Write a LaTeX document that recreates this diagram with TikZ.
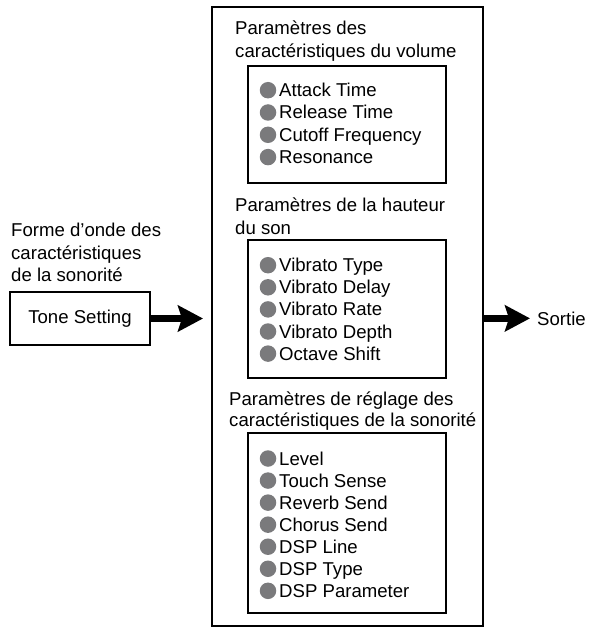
\documentclass[tikz,border=0pt]{standalone}
\usepackage{fontspec}
\setmainfont{Liberation Sans}
\usetikzlibrary{arrows.meta}
\definecolor{bulletgray}{RGB}{122,122,124}
\begin{document}
\begin{tikzpicture}[x=1pt,y=-1pt,
  every node/.style={inner sep=0pt, font=\fontsize{18.6}{22}\selectfont},
  frame/.style={draw, line width=2pt},
  panel/.style={draw, line width=1.4pt},
  txt/.style={anchor=base west},
  dot/.style={circle, fill=bulletgray, minimum size=16.5pt},
  bigarrow/.style={line width=7pt, -{Stealth[length=25pt,width=26pt,inset=4pt]}}]
\useasboundingbox (0,0) rectangle (590,628);
% main frame
\node[frame, minimum width=271pt, minimum height=619pt] (main) at (347.5,316.5) {};
% inner panels
\node[panel, minimum width=198pt, minimum height=117pt] (vol) at (347,124.5) {};
\node[panel, minimum width=198pt, minimum height=138pt] (pitch) at (347,309) {};
\node[panel, minimum width=198pt, minimum height=180pt] (sound) at (347,523) {};
% titles
\node[txt] (volA) at (235,35) {Paramètres des};
\node[txt] (volB) at (235,57.5) {caractéristiques du volume};
\node[txt] (pitA) at (235,211.7) {Paramètres de la hauteur};
\node[txt] (pitB) at (235,234.3) {du son};
\node[txt] (souA) at (229,405) {Paramètres de réglage des};
\node[txt] (souB) at (229,426.7) {caractéristiques de la sonorité};
% items
\foreach \t [count=\i] in {Attack Time, Release Time, Cutoff Frequency, Resonance} {
  \node[dot] (vd\i) at (268,{90.2+22.3*(\i-1)}) {};
  \node[txt] (vt\i) at (279,{96.7+22.3*(\i-1)}) {\t};
}
\foreach \t [count=\i] in {Vibrato Type, Vibrato Delay, Vibrato Rate, Vibrato Depth, Octave Shift} {
  \node[dot] (pd\i) at (268,{265.2+22.1*(\i-1)}) {};
  \node[txt] (pt\i) at (279,{271.7+22.1*(\i-1)}) {\t};
}
\foreach \t [count=\i] in {Level, Touch Sense, Reverb Send, Chorus Send, DSP Line, DSP Type, DSP Parameter} {
  \node[dot] (sd\i) at (268,{458.5+22.05*(\i-1)}) {};
  \node[txt] (st\i) at (279,{465+22.05*(\i-1)}) {\t};
}
% left side
\node[txt] (leftA) at (11,236.7) {Forme d’onde des};
\node[txt] (leftB) at (11,259.3) {caractéristiques};
\node[txt] (leftC) at (11,281.7) {de la sonorité};
\node[panel, minimum width=140pt, minimum height=53pt] (tone) at (80,318.5) {Tone Setting};
% output
\node[txt] (sortie) at (537,325) {Sortie};
% arrows
\draw[bigarrow, shorten >=8pt] (tone.east) -- (tone.east -| main.west);
\draw[bigarrow, shorten >=7pt] (sortie.west -| main.east) -- (sortie.west);
\end{tikzpicture}
\end{document}
